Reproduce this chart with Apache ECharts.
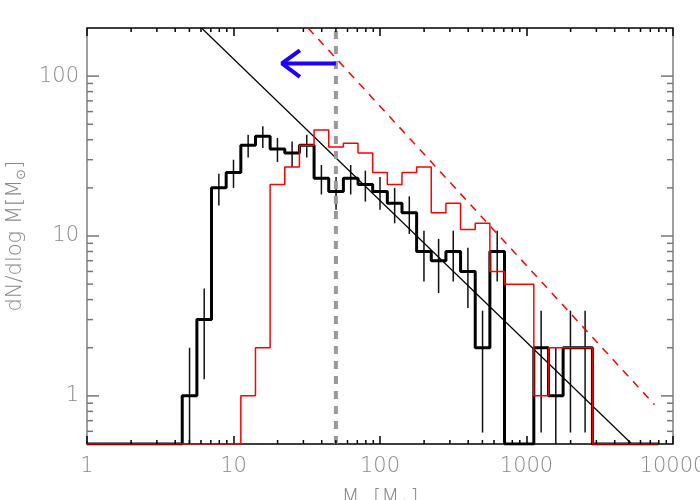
<!DOCTYPE html>
<html>
<head>
<meta charset="utf-8">
<script src="https://cdn.jsdelivr.net/npm/echarts@6/dist/echarts.min.js"></script>
<style>
  html, body { margin: 0; padding: 0; background: #fff; }
  #chart { width: 700px; height: 500px; }
</style>
</head>
<body>
<div id="chart"></div>
<script>
// bin centres in log10(M) - 0.1 dex bins, drawn IDL psym=10 style
const binLogM = [0.0, 0.1, 0.2, 0.3, 0.4, 0.5, 0.6, 0.7, 0.8, 0.9,
                 1.0, 1.1, 1.2, 1.3, 1.4, 1.5, 1.6, 1.7, 1.8, 1.9,
                 2.0, 2.1, 2.2, 2.3, 2.4, 2.5, 2.6, 2.7, 2.8, 2.9,
                 3.0, 3.1, 3.2, 3.3, 3.4, 3.5, 3.6, 3.7, 3.8, 3.9];
const countsBlack = [0, 0, 0, 0, 0, 0, 0, 1, 3, 20,
                     25, 37, 42, 35, 33, 37, 23, 19, 23, 21,
                     19, 16, 14, 8, 7, 8, 6, 2, 8, 0,
                     0, 2, 1, 2, 2, 0, 0, 0, 0, 0];
const countsRed = [0, 0, 0, 0, 0, 0, 0, 0, 0, 0,
                   0, 1, 2, 21, 27, 37, 46, 36, 38, 33,
                   25, 21, 25, 27, 14, 16, 11, 12, 6, 5,
                   5, 1, 2, 2, 2, 0, 0, 0, 0, 0];

// error bars on the black histogram (0 = down to the bottom of the plot)
const errLogM = [0.7, 0.8, 0.9, 1.0, 1.1, 1.2, 1.3, 1.4, 1.5, 1.6,
                 1.7, 1.8, 1.9, 2.0, 2.1, 2.2, 2.3, 2.4, 2.5, 2.6,
                 2.7, 2.8, 3.1, 3.2, 3.3, 3.4];
const errLow = [0, 1.27, 15.5, 20, 31, 35.5, 29, 27, 31, 18.2,
                14.6, 18.2, 16.4, 14.6, 12, 10.3, 5.2, 4.4, 5.2, 3.55,
                0.59, 5.2, 0.59, 0, 0.59, 0.59];
const errHigh = [2, 4.7, 24.5, 30, 43, 48.5, 41, 39, 43, 27.8,
                 23.4, 27.8, 25.6, 23.4, 20, 17.7, 10.8, 9.6, 10.8, 8.45,
                 3.41, 10.8, 3.41, 2, 3.41, 3.41];

// power-law lines [M, dN/dlogM]
const fitBlack = [[6.05, 200], [5240, 0.5]];
const fitRed = [[32.3, 200], [7480, 0.88]];

// mass cut and the arrow pointing left from it
const massCut = 50;
const arrowShaft = [[50, 120], [21.4, 120]];
const arrowHead = [[28.4, 145], [21.4, 120], [28.4, 99]];

const X_MIN = 1, X_MAX = 10000;
const Y_MIN = 0.5, Y_MAX = 200;
const xMinorTicks = [];
[1, 10, 100, 1000].forEach(d => [2, 3, 4, 5, 6, 7, 8, 9].forEach(m => xMinorTicks.push(d * m)));
const yMinorTicks = [0.6, 0.7, 0.8, 0.9, 2, 3, 4, 5, 6, 7, 8, 9, 20, 30, 40, 50, 60, 70, 80, 90];
const yMajorTicks = [1, 10, 100];

const TEXT = '#8a8a8a';
const FONT = '"DejaVu Sans", sans-serif';

function stepPath(counts) {
  const pts = [];
  const n = binLogM.length;
  for (let i = 0; i < n; i++) {
    const lo = i === 0 ? binLogM[i] : binLogM[i] - 0.05;
    const hi = i === n - 1 ? binLogM[i] : binLogM[i] + 0.05;
    const v = counts[i] > 0 ? counts[i] : Y_MIN;
    pts.push([Math.pow(10, lo), v], [Math.pow(10, hi), v]);
  }
  return pts;
}

const tickData = [];
xMinorTicks.forEach(v => tickData.push([v, 1, 0, 0]));
yMinorTicks.forEach(v => tickData.push([1, v, 1, 0]));
yMajorTicks.forEach(v => tickData.push([1, v, 1, 1]));

const chart = echarts.init(document.getElementById('chart'), null, { renderer: 'canvas' });

const plainLine = (data, color, width, type, z) => ({
  type: 'line',
  data: data,
  symbol: 'none',
  silent: true,
  z: z,
  lineStyle: { color: color, width: width, type: type },
});

const tickLabel = (v) => String(Math.round(v));

const xAxisBase = {
  type: 'log',
  logBase: 10,
  min: X_MIN,
  max: X_MAX,
  splitLine: { show: false },
  axisLine: { lineStyle: { color: '#000', width: 1.5 } },
  axisTick: { inside: true, length: 8, lineStyle: { color: '#000', width: 1.5 } },
};
const yAxisBase = {
  type: 'log',
  logBase: 10,
  min: Y_MIN,
  max: Y_MAX,
  splitLine: { show: false },
  axisLine: { lineStyle: { color: '#808080', width: 1.5 } },
  axisTick: { show: false },
};

chart.setOption({
  backgroundColor: '#fff',
  animation: false,
  grid: { left: 87, right: 27, top: 28, bottom: 56, outerBoundsMode: 'none' },
  xAxis: [
    Object.assign({}, xAxisBase, {
      position: 'bottom',
      name: 'M  [M{s|⊙}]',
      nameLocation: 'middle',
      nameGap: 42,
      nameTextStyle: { color: TEXT, fontSize: 21, fontFamily: FONT, fontWeight: 200,
        rich: { s: { color: TEXT, fontSize: 13, fontFamily: FONT, verticalAlign: 'bottom', padding: [12, 0, 0, 0] } } },
      axisLabel: { color: TEXT, fontSize: 21, fontFamily: FONT, fontWeight: 200, margin: 12,
        formatter: tickLabel },
    }),
    Object.assign({}, xAxisBase, {
      position: 'top',
      axisLabel: { show: false },
    }),
  ],
  yAxis: [
    Object.assign({}, yAxisBase, {
      position: 'left',
      name: 'dN/dlog M[M{s|⊙}]',
      nameLocation: 'middle',
      nameGap: 58,
      nameTextStyle: { color: TEXT, fontSize: 21, fontFamily: FONT, fontWeight: 200,
        rich: { s: { color: TEXT, fontSize: 13, fontFamily: FONT, padding: [12, 0, 0, 0] } } },
      axisLabel: { color: TEXT, fontSize: 21, fontFamily: FONT, fontWeight: 200, margin: 8,
        showMinLabel: false, showMaxLabel: false, formatter: tickLabel },
    }),
    Object.assign({}, yAxisBase, {
      position: 'right',
      axisLabel: { show: false },
    }),
  ],
  series: [
    // minor ticks on all four sides, major ticks on the y sides
    {
      type: 'custom',
      silent: true,
      clip: false,
      z: 5,
      data: tickData,
      encode: { x: 0, y: 1 },
      renderItem: (params, api) => {
        const cs = params.coordSys;
        const p = api.coord([api.value(0), api.value(1)]);
        const major = api.value(3) === 1;
        if (api.value(2) === 0) {
          const len = major ? 8 : 4;
          const x = p[0];
          return {
            type: 'group',
            children: [
              { type: 'line', shape: { x1: x, y1: cs.y + cs.height, x2: x, y2: cs.y + cs.height - len },
                style: { stroke: '#000', lineWidth: 1.5 } },
              { type: 'line', shape: { x1: x, y1: cs.y, x2: x, y2: cs.y + len },
                style: { stroke: '#000', lineWidth: 1.5 } },
            ],
          };
        }
        const len = major ? 12 : 6;
        const y = p[1];
        return {
          type: 'group',
          children: [
            { type: 'line', shape: { x1: cs.x, y1: y, x2: cs.x + len, y2: y },
              style: { stroke: '#777', lineWidth: 1.5 } },
            { type: 'line', shape: { x1: cs.x + cs.width, y1: y, x2: cs.x + cs.width - len, y2: y },
              style: { stroke: '#777', lineWidth: 1.5 } },
          ],
        };
      },
    },
    plainLine(stepPath(countsBlack), '#000', 3, 'solid', 2),
    // error bars
    {
      type: 'custom',
      silent: true,
      z: 2,
      data: errLogM.map((c, i) => [Math.pow(10, c), errLow[i] > 0 ? errLow[i] : Y_MIN, errHigh[i]]),
      encode: { x: 0, y: [1, 2] },
      renderItem: (params, api) => {
        const a = api.coord([api.value(0), api.value(1)]);
        const b = api.coord([api.value(0), api.value(2)]);
        return {
          type: 'line',
          shape: { x1: a[0], y1: a[1], x2: b[0], y2: b[1] },
          style: { stroke: '#111', lineWidth: 1.5 },
        };
      },
    },
    plainLine(fitBlack, '#000', 1.2, 'solid', 3),
    plainLine(stepPath(countsRed), '#ff0000', 1.5, 'solid', 3),
    plainLine(fitRed, '#ff0000', 1.5, [8, 7], 3),
    plainLine([[massCut, Y_MIN], [massCut, Y_MAX]], '#999', 4, [8, 7], 4),
    plainLine(arrowShaft, '#1e00ff', 4, 'solid', 4),
    plainLine(arrowHead, '#1e00ff', 4, 'solid', 4),
  ],
});
</script>
</body>
</html>
